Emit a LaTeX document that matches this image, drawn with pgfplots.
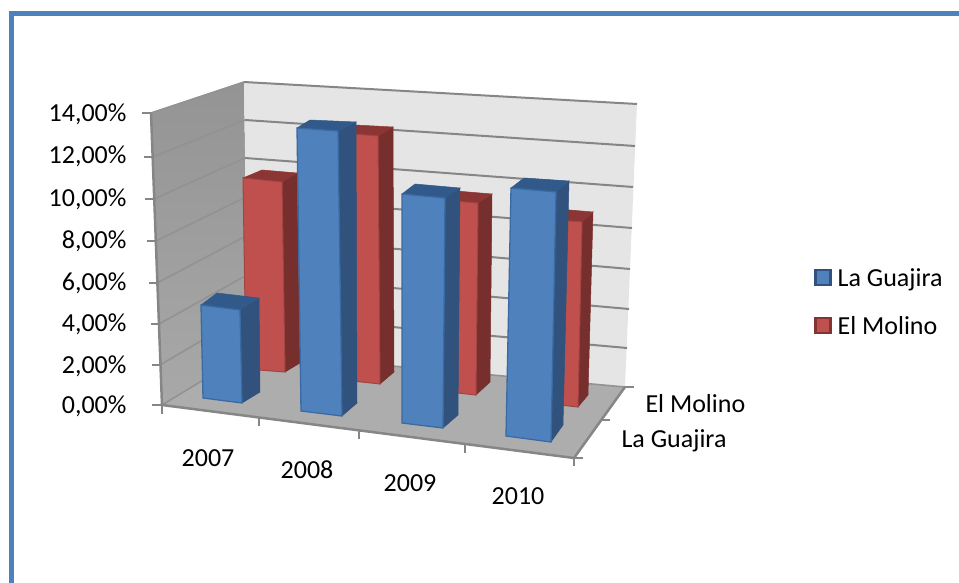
\documentclass[border=0pt]{standalone}
\usepackage{pgfplots}
\pgfplotsset{compat=1.18}
\usepackage{fontspec}
\setmainfont{Carlito}
\definecolor{bluef}{HTML}{4F81BD}
\definecolor{blues}{HTML}{30527C}
\definecolor{bluet}{HTML}{31598A}
\definecolor{blueb}{HTML}{3A6AA3}
\definecolor{redf}{HTML}{C0504D}
\definecolor{reds}{HTML}{772F2D}
\definecolor{redt}{HTML}{8B3534}
\definecolor{gridc}{HTML}{868686}
\pgfplotsset{
  blueF/.style={fill=bluef,draw=blueb,line width=1.3pt,forget plot},
  blueS/.style={fill=blues,draw=blues,line width=0.5pt,forget plot},
  blueT/.style={fill=bluet,draw=bluet,line width=0.5pt,forget plot},
  redF/.style={fill=redf,draw=redf!85!black,line width=1pt,forget plot},
  redS/.style={fill=reds,draw=reds,line width=0.5pt,forget plot},
  redT/.style={fill=redt,draw=redt,line width=0.5pt,forget plot},
  gline/.style={gridc,line width=2pt,forget plot},
  wline/.style={gridc!90!white,line width=1.6pt,forget plot},
}
\newcommand{\lab}{\fontsize{26}{30}\selectfont}
\begin{document}
\begin{tikzpicture}
\useasboundingbox (0,0) rectangle (959pt,583pt);
\begin{axis}[
  scale only axis, width=959pt, height=583pt,
  xmin=0, xmax=959, ymin=0, ymax=583, y dir=reverse,
  hide axis, clip=false,
  legend style={at={(814/959,1-266/583)},anchor=north west,draw=none,fill=none,
    row sep=24.5pt,font=\lab,inner sep=0pt,
    /tikz/every odd column/.append style={column sep=4pt}},
  legend cell align=left,
]
% frame
\addplot[color=bluef,line width=5.5pt,forget plot] coordinates {(11.5,583)(11.5,13.5)(959,13.5)};

% walls and floor
\addplot[top color=black!42,bottom color=black!34,draw=none,forget plot] coordinates {(151,113)(244,82)(248,353)(162,405)} --cycle;
\addplot[fill=black!10,draw=none,forget plot] coordinates {(244,82)(637,104)(625,387)(248,353)} --cycle;
\addplot[fill=black!32,draw=none,forget plot] coordinates {(162,405)(248,353)(625,387)(574,458)} --cycle;

% grid on the back wall, 14% down to 0%
\addplot[gline] coordinates {(244,82)(637,104)};
\addplot[gline] coordinates {(245,120)(635,146)};
\addplot[gline] coordinates {(245,158)(633,187)};
\addplot[gline] coordinates {(246,197)(632,228)};
\addplot[gline] coordinates {(246,236)(630,269)};
\addplot[gline] coordinates {(247,275)(629,309)};
\addplot[gline] coordinates {(247,314)(627,348)};
\addplot[wline] coordinates {(248,353)(625,387)};

% grid on the left wall
\addplot[wline] coordinates {(151,113)(244,82)};
\addplot[wline] coordinates {(153,157)(245,120)};
\addplot[wline] coordinates {(154,199)(245,158)};
\addplot[wline] coordinates {(156,241)(246,197)};
\addplot[wline] coordinates {(157,283)(246,236)};
\addplot[wline] coordinates {(159,324)(247,275)};
\addplot[wline] coordinates {(160,365)(247,314)};
\addplot[wline] coordinates {(162,405)(248,353)};

% axis lines and ticks
\addplot[gline,line width=2.5pt] coordinates {(151,113)(162,405)(574,458)(625,387)};
\addplot[gline,line width=2.5pt] coordinates {(142,113)(151,113)};
\addplot[gline,line width=2.5pt] coordinates {(144,157)(153,157)};
\addplot[gline,line width=2.5pt] coordinates {(145,199)(154,199)};
\addplot[gline,line width=2.5pt] coordinates {(147,241)(156,241)};
\addplot[gline,line width=2.5pt] coordinates {(149,283)(157,283)};
\addplot[gline,line width=2.5pt] coordinates {(151,324)(159,324)};
\addplot[gline,line width=2.5pt] coordinates {(152,365)(160,365)};
\addplot[gline,line width=2.5pt] coordinates {(152,405)(162,405)};
\addplot[gline,line width=2.5pt] coordinates {(162,405)(162,414)};
\addplot[gline,line width=2.5pt] coordinates {(259,418)(259,426)};
\addplot[gline,line width=2.5pt] coordinates {(359,431)(359,439)};
\addplot[gline,line width=2.5pt] coordinates {(465,444)(465,453)};
\addplot[gline,line width=2.5pt] coordinates {(574,458)(574,466)};
\addplot[gline,line width=2.5pt] coordinates {(574,458)(583,458)};
\addplot[gline,line width=2.5pt] coordinates {(602,420)(610,420)};
\addplot[gline,line width=2.5pt] coordinates {(625,387)(634,387)};

% El Molino bars
\addplot[redS] coordinates {(282,182)(297,173)(300,363)(285,372)} --cycle;
\addplot[redT] coordinates {(243,178)(262,170)(297,173)(282,182)} --cycle;
\addplot[redF] coordinates {(243,178)(282,182)(285,372)(246,369)} --cycle;

\addplot[redS] coordinates {(378,136)(393,127)(394,372)(380,384)} --cycle;
\addplot[redT] coordinates {(341,133)(355,125)(393,127)(378,136)} --cycle;
\addplot[redF] coordinates {(341,133)(378,136)(380,384)(343,380)} --cycle;

\addplot[redS] coordinates {(478,203)(492,194)(490,382)(476,395)} --cycle;
\addplot[redT] coordinates {(441,200)(456,191)(492,194)(478,203)} --cycle;
\addplot[redF] coordinates {(441,200)(478,203)(476,395)(440,391)} --cycle;

\addplot[redS] coordinates {(582,222)(593,212)(588,395)(578,407)} --cycle;
\addplot[redT] coordinates {(546,219)(558,209)(593,212)(582,222)} --cycle;
\addplot[redF] coordinates {(546,219)(582,222)(578,407)(542,403)} --cycle;

% La Guajira bars
\addplot[blueS] coordinates {(240,310)(259,298)(260,392)(242,403)} --cycle;
\addplot[blueT] coordinates {(201,305)(217,293)(259,298)(240,310)} --cycle;
\addplot[blueF] coordinates {(201,305)(240,310)(242,403)(203,398)} --cycle;

\addplot[blueS] coordinates {(338,131)(356,122)(357,403)(342,416)} --cycle;
\addplot[blueT] coordinates {(297,128)(310,120)(356,122)(338,131)} --cycle;
\addplot[blueF] coordinates {(297,128)(338,131)(342,416)(301,411)} --cycle;

\addplot[blueS] coordinates {(445,198)(460,188)(458,415)(443,428)} --cycle;
\addplot[blueT] coordinates {(402,194)(415,184)(460,188)(445,198)} --cycle;
\addplot[blueF] coordinates {(402,194)(445,198)(443,428)(402,423)} --cycle;

\addplot[blueS] coordinates {(556,192)(569,181)(563,425)(551,442)} --cycle;
\addplot[blueT] coordinates {(511,188)(524,178)(569,181)(556,192)} --cycle;
\addplot[blueF] coordinates {(511,188)(556,192)(551,442)(506,436)} --cycle;

% legend
\addlegendimage{legend image code/.code={\draw[fill=bluef,draw=blues,line width=2.4pt] (1pt,-7pt) rectangle (16pt,8pt);},}
\addlegendentry{La Guajira}
\addlegendimage{legend image code/.code={\draw[fill=redf,draw=reds!85!redf,line width=2.4pt] (1pt,-7pt) rectangle (16pt,8pt);},}
\addlegendentry{El Molino}

% axis labels
\node[anchor=east,font=\lab] at (axis cs:130,114) {14,00\%};
\node[anchor=east,font=\lab] at (axis cs:130,156) {12,00\%};
\node[anchor=east,font=\lab] at (axis cs:130,199) {10,00\%};
\node[anchor=east,font=\lab] at (axis cs:130,241) {8,00\%};
\node[anchor=east,font=\lab] at (axis cs:130,283) {6,00\%};
\node[anchor=east,font=\lab] at (axis cs:130,324) {4,00\%};
\node[anchor=east,font=\lab] at (axis cs:130,366) {2,00\%};
\node[anchor=east,font=\lab] at (axis cs:130,406) {0,00\%};
\node[font=\lab] at (axis cs:208,458) {2007};
\node[font=\lab] at (axis cs:307,470) {2008};
\node[font=\lab] at (axis cs:410,483) {2009};
\node[font=\lab] at (axis cs:518,496) {2010};
\node[anchor=west,font=\lab] at (axis cs:642,404) {El Molino};
\node[anchor=west,font=\lab] at (axis cs:618,441) {La Guajira};
\end{axis}
\end{tikzpicture}
\end{document}
